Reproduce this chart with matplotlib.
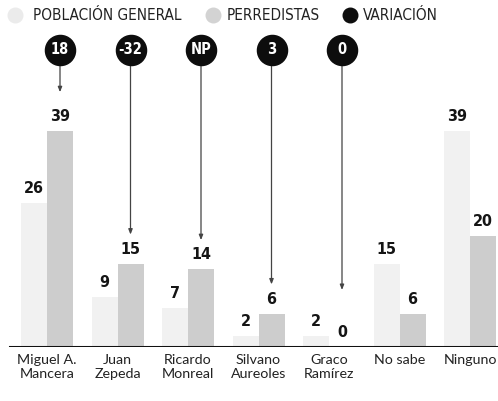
import matplotlib
matplotlib.use("Agg")
import matplotlib.pyplot as plt
import numpy as np

categories = ["Miguel A.\nMancera", "Juan\nZepeda", "Ricardo\nMonreal", "Silvano\nAureoles",
              "Graco\nRamírez", "No sabe", "Ninguno"]
poblacion_general = [26, 9, 7, 2, 2, 15, 39]
perredistas = [39, 15, 14, 6, 0, 6, 20]
variacion = ["18", "-32", "NP", "3", "0", None, None]
legend_labels = ["POBLACIÓN GENERAL", "PERREDISTAS", "VARIACIÓN"]

W, H = 498, 401
fig = plt.figure(figsize=(W / 100, H / 100), dpi=100)
base_px = 347
ax = fig.add_axes([0, (H - base_px) / H, 1, base_px / H])
px_per_unit = 5.54
spacing = 70.5
x0 = 47
ax.set_xlim(-x0 / spacing, (W - x0) / spacing)
ax.set_ylim(0, base_px / px_per_unit)

c_pg = "#f1f1f1"
c_pr = "#cdcdcd"
c_var = "#0d0d0d"
bw = 26 / spacing

cond = dict(fontfamily="DejaVu Sans", fontstretch="condensed")

x = np.arange(len(categories))
ax.bar(x - bw / 2, poblacion_general, width=bw, color=c_pg, edgecolor="none", zorder=2)
ax.bar(x + bw / 2, perredistas, width=bw, color=c_pr, edgecolor="none", zorder=2)

vfont = dict(fontweight="bold", fontsize=11.5, color="#151515", ha="center", va="bottom", **cond)
for i in range(len(categories)):
    ax.text(x[i] - bw / 2, poblacion_general[i] + 1.3, str(poblacion_general[i]), **vfont)
    ax.text(x[i] + bw / 2, perredistas[i] + 1.3, str(perredistas[i]), **vfont)

ax.axhline(0, xmin=10 / W, xmax=1, color="#111111", lw=2.2, zorder=3)

circle_y = (base_px - 50) / px_per_unit
for i, v in enumerate(variacion):
    if v is None:
        continue
    xc = x[i] + bw / 2
    tip = max(perredistas[i], 5) + 5.3
    if i == 0:
        tip = perredistas[i] + 7
    ax.annotate("", xy=(xc, tip), xytext=(xc, circle_y),
                arrowprops=dict(arrowstyle="-|>,head_length=0.3,head_width=0.12",
                                color="#444444", lw=0.9, shrinkA=0, shrinkB=0), zorder=1)
    ax.scatter([xc], [circle_y], s=470, color=c_var, zorder=4, clip_on=False)
    ax.text(xc, circle_y, v, color="white", fontsize=10.5, fontweight="bold",
            ha="center", va="center", zorder=5, **cond)

# legend
leg_y = (base_px - 15) / px_per_unit
leg_items = [(15, 33, "#ebebeb"), (213, 227, "#d3d3d3"), (350, 363, c_var)]
for (mx, tx, col), lab in zip(leg_items, legend_labels):
    ax.scatter([(mx - x0) / spacing], [leg_y], s=110, color=col, clip_on=False, zorder=4)
    ax.text((tx - x0) / spacing, leg_y, lab, fontsize=11, color="#222222",
            ha="left", va="center", **cond)

ax.set_xticks(x)
ax.set_xticklabels(categories, fontsize=10.3, fontfamily=["Lato", "DejaVu Sans"],
                   color="#222222", linespacing=1.25)
ax.tick_params(axis="x", length=0, pad=5)
ax.set_yticks([])
for s in ax.spines.values():
    s.set_visible(False)

fig.savefig("out.png", dpi=100, facecolor="white")
